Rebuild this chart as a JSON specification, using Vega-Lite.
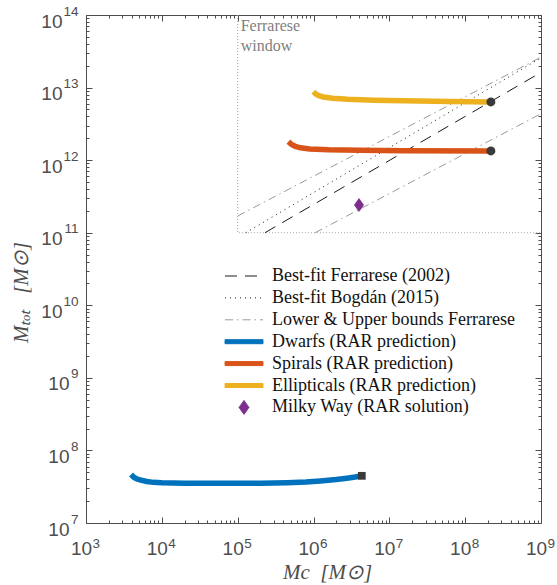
{
  "$schema": "https://vega.github.io/schema/vega-lite/v6.json",
  "width": 455,
  "height": 508,
  "autosize": "none",
  "padding": {"left": 86, "top": 15, "right": 16, "bottom": 62},
  "background": "white",
  "config": {
    "view": {"stroke": "#4d4d4d", "strokeWidth": 1},
    "axis": {
      "domain": false, "ticks": false,
      "gridColor": "#4d4d4d", "gridOpacity": 1, "gridWidth": 1,
      "labelFont": "Liberation Sans", "labelFontSize": 19, "labelColor": "#4d4d4d",
      "titleFont": "Liberation Serif", "titleFontSize": 21, "titleFontStyle": "italic", "titleFontWeight": "normal", "titleColor": "#4d4d4d",
      "grid": false, "labelOverlap": false, "labelFlush": false, "labelBound": false
    }
  },
  "datasets": {
    "window": [
      {"Mc": 100000, "Mtot": 1e14, "i": 0},
      {"Mc": 100000, "Mtot": 1e11, "i": 1},
      {"Mc": 1e9, "Mtot": 1e11, "i": 2}
    ],
    "reflines": [
      {"series": "Best-fit Ferrarese (2002)", "line": "F", "Mc": 229000, "Mtot": 1.0e11},
      {"series": "Best-fit Ferrarese (2002)", "line": "F", "Mc": 1e9, "Mtot": 1.62e13},
      {"series": "Best-fit Bogdán (2015)", "line": "B", "Mc": 128000, "Mtot": 1.0e11},
      {"series": "Best-fit Bogdán (2015)", "line": "B", "Mc": 1e9, "Mtot": 2.57e13},
      {"series": "Lower & Upper bounds Ferrarese", "line": "U", "Mc": 100000, "Mtot": 1.70e11},
      {"series": "Lower & Upper bounds Ferrarese", "line": "U", "Mc": 1e9, "Mtot": 2.63e13},
      {"series": "Lower & Upper bounds Ferrarese", "line": "L", "Mc": 1050000, "Mtot": 1.0e11},
      {"series": "Lower & Upper bounds Ferrarese", "line": "L", "Mc": 1e9, "Mtot": 4.37e12}
    ],
    "rar": [
      {"series": "Dwarfs (RAR prediction)", "Mc": 3926, "Mtot": 4.656e7},
      {"series": "Dwarfs (RAR prediction)", "Mc": 4266, "Mtot": 4.266e7},
      {"series": "Dwarfs (RAR prediction)", "Mc": 4677, "Mtot": 4.046e7},
      {"series": "Dwarfs (RAR prediction)", "Mc": 5152, "Mtot": 3.936e7},
      {"series": "Dwarfs (RAR prediction)", "Mc": 6310, "Mtot": 3.733e7},
      {"series": "Dwarfs (RAR prediction)", "Mc": 7727, "Mtot": 3.631e7},
      {"series": "Dwarfs (RAR prediction)", "Mc": 10000, "Mtot": 3.581e7},
      {"series": "Dwarfs (RAR prediction)", "Mc": 19953, "Mtot": 3.540e7},
      {"series": "Dwarfs (RAR prediction)", "Mc": 50119, "Mtot": 3.524e7},
      {"series": "Dwarfs (RAR prediction)", "Mc": 100000, "Mtot": 3.524e7},
      {"series": "Dwarfs (RAR prediction)", "Mc": 199526, "Mtot": 3.540e7},
      {"series": "Dwarfs (RAR prediction)", "Mc": 446684, "Mtot": 3.597e7},
      {"series": "Dwarfs (RAR prediction)", "Mc": 794328, "Mtot": 3.681e7},
      {"series": "Dwarfs (RAR prediction)", "Mc": 1230269, "Mtot": 3.802e7},
      {"series": "Dwarfs (RAR prediction)", "Mc": 1995262, "Mtot": 3.981e7},
      {"series": "Dwarfs (RAR prediction)", "Mc": 2754229, "Mtot": 4.150e7},
      {"series": "Dwarfs (RAR prediction)", "Mc": 3548134, "Mtot": 4.295e7},
      {"series": "Dwarfs (RAR prediction)", "Mc": 4335510, "Mtot": 4.467e7},
      {"series": "Spirals (RAR prediction)", "Mc": 466700, "Mtot": 1.799e12},
      {"series": "Spirals (RAR prediction)", "Mc": 512900, "Mtot": 1.641e12},
      {"series": "Spirals (RAR prediction)", "Mc": 575400, "Mtot": 1.549e12},
      {"series": "Spirals (RAR prediction)", "Mc": 676100, "Mtot": 1.479e12},
      {"series": "Spirals (RAR prediction)", "Mc": 891300, "Mtot": 1.429e12},
      {"series": "Spirals (RAR prediction)", "Mc": 1585000, "Mtot": 1.387e12},
      {"series": "Spirals (RAR prediction)", "Mc": 3981000, "Mtot": 1.365e12},
      {"series": "Spirals (RAR prediction)", "Mc": 15850000, "Mtot": 1.349e12},
      {"series": "Spirals (RAR prediction)", "Mc": 218300000, "Mtot": 1.340e12},
      {"series": "Ellipticals (RAR prediction)", "Mc": 997700, "Mtot": 8.790e12},
      {"series": "Ellipticals (RAR prediction)", "Mc": 1072000, "Mtot": 8.128e12},
      {"series": "Ellipticals (RAR prediction)", "Mc": 1175000, "Mtot": 7.727e12},
      {"series": "Ellipticals (RAR prediction)", "Mc": 1349000, "Mtot": 7.413e12},
      {"series": "Ellipticals (RAR prediction)", "Mc": 1778000, "Mtot": 7.112e12},
      {"series": "Ellipticals (RAR prediction)", "Mc": 2818000, "Mtot": 6.887e12},
      {"series": "Ellipticals (RAR prediction)", "Mc": 6310000, "Mtot": 6.699e12},
      {"series": "Ellipticals (RAR prediction)", "Mc": 15850000, "Mtot": 6.577e12},
      {"series": "Ellipticals (RAR prediction)", "Mc": 63100000, "Mtot": 6.442e12},
      {"series": "Ellipticals (RAR prediction)", "Mc": 218300000, "Mtot": 6.339e12}
    ],
    "ends": [
      {"galaxy": "Dwarfs", "Mc": 4335510, "Mtot": 4.467e7},
      {"galaxy": "Spirals", "Mc": 218300000, "Mtot": 1.340e12},
      {"galaxy": "Ellipticals", "Mc": 218300000, "Mtot": 6.339e12}
    ],
    "mw": [
      {"name": "Milky Way (RAR solution)", "Mc": 3980000, "Mtot": 2.40e11}
    ],
    "note": [
      {"Mc": 100000, "Mtot": 1e14, "text": "Ferrarese\nwindow"}
    ]
  },
  "layer": [
    {
      "data": {"name": "window"},
      "mark": {"type": "line", "stroke": "#a8a8a8", "strokeWidth": 1, "strokeDash": [1, 2]},
      "encoding": {
        "x": {
          "field": "Mc", "type": "quantitative",
          "scale": {"type": "log", "domain": [1000, 1000000000], "nice": false},
          "axis": {
            "orient": "bottom",
            "title": "Mc\u00a0\u00a0[M⊙]",
            "titleX": 241, "titleY": 55, "titleBaseline": "alphabetic", "titleAlign": "center",
            "labelPadding": 31, "labelBaseline": "alphabetic", "labelAlign": "center", "labelOffset": -5,
            "grid": true, "gridDash": [6, 496, 6, 1000],
            "values": [1000, 10000, 100000, 1000000, 10000000, 100000000, 1000000000],
            "labelExpr": "'10'"
          }
        },
        "y": {
          "field": "Mtot", "type": "quantitative",
          "scale": {"type": "log", "domain": [10000000, 100000000000000], "nice": false},
          "axis": {
            "orient": "left",
            "title": "Mₜₒₜ\u00a0\u00a0\u00a0[M⊙]",
            "titleX": -59, "titleY": 277, "titleBaseline": "alphabetic", "titleAlign": "center",
            "labelPadding": 17, "labelBaseline": "alphabetic", "labelAlign": "right", "labelOffset": 12,
            "grid": true, "gridDash": [6, 443, 6, 1000],
            "values": [10000000, 100000000, 1000000000, 10000000000, 100000000000, 1000000000000, 10000000000000, 100000000000000],
            "labelExpr": "datum.value < 5000000000 ? '10' : ''"
          }
        },
        "order": {"field": "i", "type": "quantitative"}
      }
    },
    {
      "data": {"name": "reflines"},
      "mark": {"type": "line", "strokeWidth": 1},
      "encoding": {
        "x": {
          "field": "Mc", "type": "quantitative",
          "scale": {"type": "log", "domain": [1000, 1000000000], "nice": false},
          "axis": {
            "orient": "top", "title": null, "labels": false,
            "grid": true, "gridDash": [3, 502, 3, 1000],
            "values": [2000,3000,4000,5000,6000,7000,8000,9000,20000,30000,40000,50000,60000,70000,80000,90000,200000,300000,400000,500000,600000,700000,800000,900000,2000000,3000000,4000000,5000000,6000000,7000000,8000000,9000000,20000000,30000000,40000000,50000000,60000000,70000000,80000000,90000000,200000000,300000000,400000000,500000000,600000000,700000000,800000000,900000000]
          }
        },
        "y": {
          "field": "Mtot", "type": "quantitative",
          "scale": {"type": "log", "domain": [10000000, 100000000000000], "nice": false},
          "axis": {
            "orient": "right", "title": null, "labels": false,
            "grid": true, "gridDash": [3, 449, 3, 1000],
            "values": [20000000,30000000,40000000,50000000,60000000,70000000,80000000,90000000,200000000,300000000,400000000,500000000,600000000,700000000,800000000,900000000,2000000000,3000000000,4000000000,5000000000,6000000000,7000000000,8000000000,9000000000,20000000000,30000000000,40000000000,50000000000,60000000000,70000000000,80000000000,90000000000,200000000000,300000000000,400000000000,500000000000,600000000000,700000000000,800000000000,900000000000,2000000000000,3000000000000,4000000000000,5000000000000,6000000000000,7000000000000,8000000000000,9000000000000,20000000000000,30000000000000,40000000000000,50000000000000,60000000000000,70000000000000,80000000000000,90000000000000]
          }
        },
        "color": {
          "field": "series", "type": "nominal",
          "scale": {
            "domain": ["Best-fit Ferrarese (2002)", "Best-fit Bogdán (2015)", "Lower & Upper bounds Ferrarese", "Dwarfs (RAR prediction)", "Spirals (RAR prediction)", "Ellipticals (RAR prediction)", "Milky Way (RAR solution)"],
            "range": ["#1a1a1a", "#1a1a1a", "#9a9a9a", "#0072BD", "#D95319", "#EDB120", "#7E2F8E"]
          },
          "legend": {
            "orient": "none", "legendX": 149, "legendY": 252, "title": null,
            "padding": 0, "symbolSize": 100, "symbolType": "stroke", "symbolStrokeWidth": 1,
            "labelFont": "Liberation Serif", "labelFontSize": 18, "labelColor": "#111111",
            "labelOffset": 19, "labelLimit": 400, "rowPadding": 3.9,
            "encode": {
              "symbols": {
                "update": {
                  "shape": {"signal": "datum.value === 'Milky Way (RAR solution)' ? 'M0,-1.4L1,0L0,1.4L-1,0Z' : indexof(datum.value, 'RAR prediction') >= 0 ? 'M-3.8,-0.4H3.8V0.4H-3.8Z' : 'M-3.8,0H3.8'"},
                  "strokeDash": {"signal": "datum.value === 'Best-fit Ferrarese (2002)' ? [12,8] : datum.value === 'Best-fit Bogdán (2015)' ? [1,4] : datum.value === 'Lower & Upper bounds Ferrarese' ? [8,4,1.5,4] : [1,0]"},
                  "fill": {"signal": "datum.value === 'Milky Way (RAR solution)' ? '#7E2F8E' : indexof(datum.value, 'RAR prediction') >= 0 ? scale('color', datum.value) : 'transparent'"}
                }
              }
            }
          }
        },
        "strokeDash": {
          "field": "series", "type": "nominal",
          "scale": {
            "domain": ["Best-fit Ferrarese (2002)", "Best-fit Bogdán (2015)", "Lower & Upper bounds Ferrarese"],
            "range": [[12, 8], [1, 4], [8, 4, 1.5, 4]]
          },
          "legend": null
        },
        "detail": {"field": "line", "type": "nominal"}
      }
    },
    {
      "data": {"name": "rar"},
      "mark": {"type": "line", "strokeWidth": 5.5},
      "encoding": {
        "x": {
          "field": "Mc", "type": "quantitative",
          "axis": {
            "orient": "bottom", "title": null,
            "labelFontSize": 13.5, "labelPadding": 24, "labelBaseline": "alphabetic", "labelAlign": "left", "labelOffset": 6,
            "values": [1000, 10000, 100000, 1000000, 10000000, 100000000, 1000000000],
            "labelExpr": "'' + round(log(datum.value)/LN10)"
          }
        },
        "y": {
          "field": "Mtot", "type": "quantitative",
          "axis": {
            "orient": "left", "title": null,
            "labelFontSize": 13.5, "labelPadding": 8, "labelBaseline": "alphabetic", "labelAlign": "right", "labelOffset": 0,
            "values": [10000000, 100000000, 1000000000, 10000000000, 100000000000, 1000000000000, 10000000000000, 100000000000000],
            "labelExpr": "'' + round(log(datum.value)/LN10)"
          }
        },
        "color": {"field": "series", "type": "nominal"}
      }
    },
    {
      "data": {"name": "ends"},
      "mark": {"type": "point", "filled": true, "fill": "#3a3a3a", "opacity": 1},
      "encoding": {
        "x": {"field": "Mc", "type": "quantitative", "axis": null},
        "y": {"field": "Mtot", "type": "quantitative", "axis": null},
        "shape": {
          "field": "galaxy", "type": "nominal",
          "scale": {"domain": ["Dwarfs", "Spirals", "Ellipticals"], "range": ["square", "circle", "circle"]},
          "legend": null
        },
        "size": {
          "field": "galaxy", "type": "nominal",
          "scale": {"type": "ordinal", "domain": ["Dwarfs", "Spirals", "Ellipticals"], "range": [60, 80, 80]},
          "legend": null
        }
      }
    },
    {
      "data": {"name": "mw"},
      "mark": {"type": "point", "filled": true, "fill": "#7E2F8E", "opacity": 1, "shape": "M0,-1.4L1,0L0,1.4L-1,0Z", "size": 100},
      "encoding": {
        "x": {"field": "Mc", "type": "quantitative", "axis": null},
        "y": {"field": "Mtot", "type": "quantitative", "axis": null}
      }
    },
    {
      "data": {"name": "note"},
      "mark": {"type": "text", "align": "left", "baseline": "top", "dx": 3, "dy": 3, "font": "Liberation Serif", "fontSize": 16, "fill": "#808080", "lineBreak": "\n", "lineHeight": 20},
      "encoding": {
        "x": {"field": "Mc", "type": "quantitative", "axis": null},
        "y": {
          "field": "Mtot", "type": "quantitative",
          "axis": {
            "orient": "left", "title": null,
            "labelPadding": 24, "labelBaseline": "alphabetic", "labelAlign": "right", "labelOffset": 12,
            "values": [10000000000, 100000000000, 1000000000000, 10000000000000, 100000000000000],
            "labelExpr": "'10'"
          }
        },
        "text": {"field": "text"}
      }
    }
  ],
  "resolve": {"axis": {"x": "independent", "y": "independent"}}
}
